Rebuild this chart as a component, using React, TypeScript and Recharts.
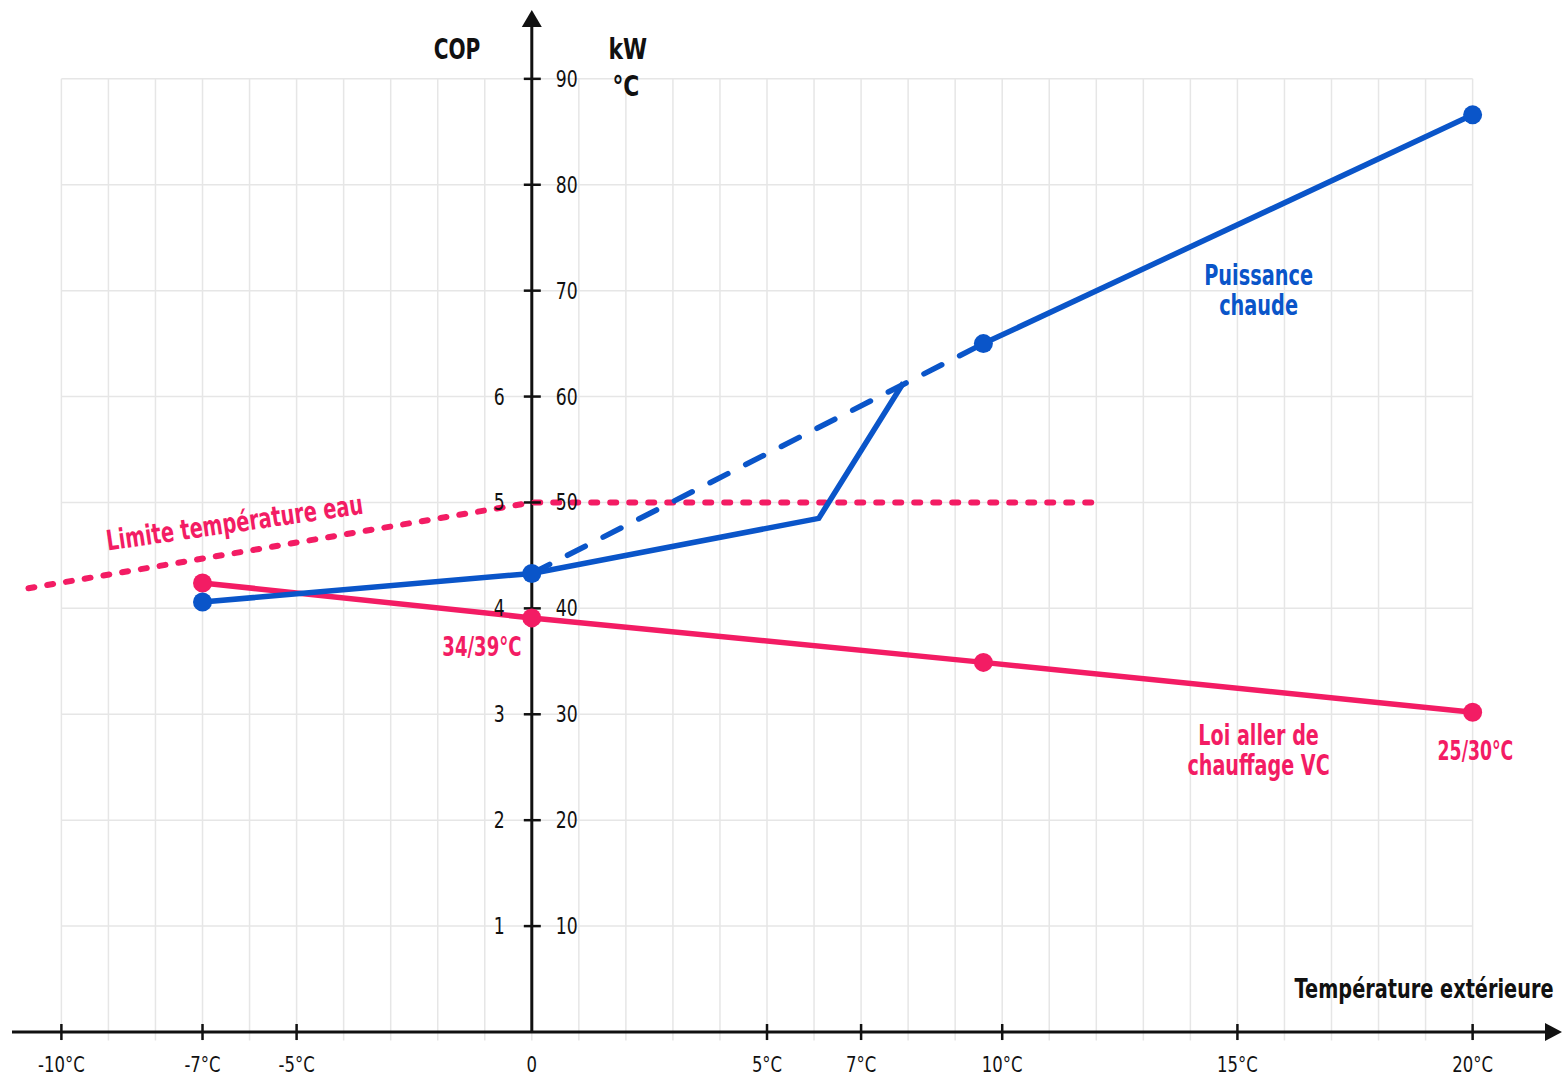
import React from 'react';
import {
  ComposedChart,
  Line,
  Scatter,
  XAxis,
  YAxis,
  ReferenceLine,
  ReferenceDot,
} from 'recharts';

const BLUE = '#0a55c9';
const PINK = '#f31c64';
const INK = '#111111';
const GRID = '#e6e6e6';
const FONT = '"DejaVu Sans", sans-serif';
const NARROW = 0.75; // la police d'origine est condensée

// températures des points repérés (°C)
const pointTemps = [-7, 0, 9.6, 20];
// puissance chaude (kW)
const puissanceChaude = [40.6, 43.3, 65.0, 86.6];
// loi aller de chauffage (°C)
const loiAller = [42.4, 39.1, 34.9, 30.2];
// coude de la puissance réelle après 0°C
const coudeTemps = [0, 6.1, 7.9];
const coudePuissance = [43.3, 48.5, 61.3];
// limite température eau
const limiteTemps = [-10.7, 0, 11.9];
const limiteEau = [41.9, 50, 50];

const xTicks = [-10, -7, -5, 0, 5, 7, 10, 15, 20];
const xTickLabels = ['-10°C', '-7°C', '-5°C', '0', '5°C', '7°C', '10°C', '15°C', '20°C'];
const kwTicks = [10, 20, 30, 40, 50, 60, 70, 80, 90];
const copTicks = [1, 2, 3, 4, 5, 6];
const gridTemps = Array.from({ length: 31 }, (_, i) => i - 10);

const X_MIN = -11.05;
const X_MAX = 21.9;
const Y_MAX = 96.5;

const toPts = (xs: number[], ys: number[]) => xs.map((x, i) => ({ x, y: ys[i] }));

const puissanceAvant = toPts([pointTemps[0], ...coudeTemps], [puissanceChaude[0], ...coudePuissance]);
const puissanceTheo = toPts(pointTemps.slice(1, 3), puissanceChaude.slice(1, 3));
const puissanceApres = toPts(pointTemps.slice(2), puissanceChaude.slice(2));
const loiData = toPts(pointTemps, loiAller);
const limiteData = toPts(limiteTemps, limiteEau);

const NarrowText = ({ x, y, anchor, size = 23, children }: any) => (
  <text
    transform={`translate(${x} ${y}) scale(${NARROW} 1)`}
    textAnchor={anchor}
    fontSize={size}
    fill={INK}
    fontFamily={FONT}
  >
    {children}
  </text>
);

const XTick = (props: any) => {
  const { x, y, payload } = props;
  const i = xTicks.indexOf(payload.value);
  return (
    <g>
      {payload.value !== 0 && (
        <line x1={x} x2={x} y1={y - 8} y2={y + 8} stroke={INK} strokeWidth={2.5} />
      )}
      <NarrowText x={x} y={y + 40} anchor="middle" size={22}>
        {xTickLabels[i]}
      </NarrowText>
    </g>
  );
};

const dotShape = (color: string) => (p: any) => (
  <circle cx={p.cx} cy={p.cy} r={9.5} fill={color} />
);

// texte gras posé sur une coordonnée de données, resserré horizontalement
const label = (
  lines: string[],
  color: string,
  opts: { size?: number; anchor?: 'start' | 'middle' | 'end'; rotate?: number; lh?: number; sx?: number } = {}
) => (p: any) => {
  const { size = 28, anchor = 'middle', rotate = 0, lh = 30, sx = 0.69 } = opts;
  return (
    <text
      transform={`translate(${p.cx} ${p.cy}) rotate(${rotate}) scale(${sx} 1)`}
      textAnchor={anchor}
      fontSize={size}
      fontWeight={700}
      fill={color}
      fontFamily={FONT}
    >
      {lines.map((t, k) => (
        <tspan key={k} x={0} dy={k === 0 ? 0 : lh}>
          {t}
        </tspan>
      ))}
    </text>
  );
};

const yTickShape = (v: number) => (p: any) => (
  <g>
    <line x1={p.cx - 8} x2={p.cx + 9} y1={p.cy} y2={p.cy} stroke={INK} strokeWidth={2.5} />
    {copTicks.includes(v / 10) && (
      <NarrowText x={p.cx - 27} y={p.cy + 8} anchor="end">
        {v / 10}
      </NarrowText>
    )}
    <NarrowText x={p.cx + 24} y={p.cy + 8} anchor="start">
      {v}
    </NarrowText>
  </g>
);

const arrowRight = (p: any) => (
  <polygon points={`${p.cx},${p.cy} ${p.cx - 17},${p.cy - 9} ${p.cx - 17},${p.cy + 9}`} fill={INK} />
);
const arrowUp = (p: any) => (
  <polygon points={`${p.cx},${p.cy} ${p.cx - 10},${p.cy + 17} ${p.cx + 10},${p.cy + 17}`} fill={INK} />
);

export default function App() {
  return (
    <div style={{ position: 'absolute', left: 0, top: 0, width: 1562, height: 1078, background: '#fff' }}>
      <ComposedChart width={1562} height={1078} margin={{ top: 10, right: 0, bottom: 0, left: 12 }}>
        <XAxis
          dataKey="x"
          type="number"
          domain={[X_MIN, X_MAX]}
          allowDataOverflow
          ticks={xTicks}
          interval={0}
          height={46}
          tickSize={0}
          tickMargin={0}
          axisLine={false}
          tickLine={false}
          tick={<XTick />}
        />
        <YAxis dataKey="y" type="number" domain={[0, Y_MAX]} allowDataOverflow hide />

        {/* grille */}
        {gridTemps.map((t) => (
          <ReferenceLine
            key={`v${t}`}
            segment={[{ x: t, y: -0.8 }, { x: t, y: 90 }]}
            stroke={GRID}
            strokeWidth={1.5}
            ifOverflow="visible"
          />
        ))}
        {kwTicks.map((v) => (
          <ReferenceLine
            key={`h${v}`}
            segment={[{ x: -10, y: v }, { x: 20, y: v }]}
            stroke={GRID}
            strokeWidth={1.5}
            ifOverflow="visible"
          />
        ))}

        {/* axes */}
        <ReferenceLine segment={[{ x: X_MIN, y: 0 }, { x: 21.6, y: 0 }]} stroke={INK} strokeWidth={3} ifOverflow="visible" />
        <ReferenceLine segment={[{ x: 0, y: 0 }, { x: 0, y: 95 }]} stroke={INK} strokeWidth={3} ifOverflow="visible" />
        <ReferenceDot x={X_MAX} y={0} r={1} ifOverflow="visible" shape={arrowRight} />
        <ReferenceDot x={0} y={Y_MAX} r={1} ifOverflow="visible" shape={arrowUp} />
        {kwTicks.map((v) => (
          <ReferenceDot key={`t${v}`} x={0} y={v} r={1} ifOverflow="visible" shape={yTickShape(v)} />
        ))}

        <Line
          data={limiteData}
          dataKey="y"
          type="linear"
          stroke={PINK}
          strokeWidth={6}
          strokeDasharray="6 13"
          strokeLinecap="round"
          dot={false}
          activeDot={false}
          isAnimationActive={false}
        />
        <Line data={loiData} dataKey="y" type="linear" stroke={PINK} strokeWidth={5.5} dot={false} activeDot={false} isAnimationActive={false} />
        <Line
          data={puissanceTheo}
          dataKey="y"
          type="linear"
          stroke={BLUE}
          strokeWidth={5.5}
          strokeDasharray="20 20"
          strokeLinecap="round"
          dot={false}
          activeDot={false}
          isAnimationActive={false}
        />
        <Line data={puissanceAvant} dataKey="y" type="linear" stroke={BLUE} strokeWidth={5.5} dot={false} activeDot={false} isAnimationActive={false} />
        <Line data={puissanceApres} dataKey="y" type="linear" stroke={BLUE} strokeWidth={5.5} dot={false} activeDot={false} isAnimationActive={false} />

        <Scatter data={loiData} dataKey="y" shape={dotShape(PINK)} isAnimationActive={false} />
        <Scatter data={toPts(pointTemps, puissanceChaude)} dataKey="y" shape={dotShape(BLUE)} isAnimationActive={false} />

        {/* libellés */}
        <ReferenceDot x={-1.59} y={91.9} r={1} ifOverflow="visible" shape={label(['COP'], INK, { sx: 0.72 })} />
        <ReferenceDot x={2.04} y={91.9} r={1} ifOverflow="visible" shape={label(['kW'], INK, { sx: 0.78 })} />
        <ReferenceDot x={2.0} y={88.4} r={1} ifOverflow="visible" shape={label(['°C'], INK, { sx: 0.78 })} />
        <ReferenceDot
          x={21.72}
          y={3.2}
          r={1}
          ifOverflow="visible"
          shape={label(['Température extérieure'], INK, { size: 27, anchor: 'end', sx: 0.715 })}
        />
        <ReferenceDot x={15.45} y={70.5} r={1} ifOverflow="visible" shape={label(['Puissance', 'chaude'], BLUE)} />
        <ReferenceDot
          x={15.45}
          y={27.1}
          r={1}
          ifOverflow="visible"
          shape={label(['Loi aller de', 'chauffage VC'], PINK, { sx: 0.685 })}
        />
        <ReferenceDot x={20.06} y={25.7} r={1} ifOverflow="visible" shape={label(['25/30°C'], PINK, { size: 27, sx: 0.64 })} />
        <ReferenceDot x={-1.06} y={35.5} r={1} ifOverflow="visible" shape={label(['34/39°C'], PINK, { size: 27, sx: 0.67 })} />
        <ReferenceDot
          x={-6.29}
          y={47.2}
          r={1}
          ifOverflow="visible"
          shape={label(['Limite température eau'], PINK, { rotate: -8.2, sx: 0.69 })}
        />
      </ComposedChart>
    </div>
  );
}
